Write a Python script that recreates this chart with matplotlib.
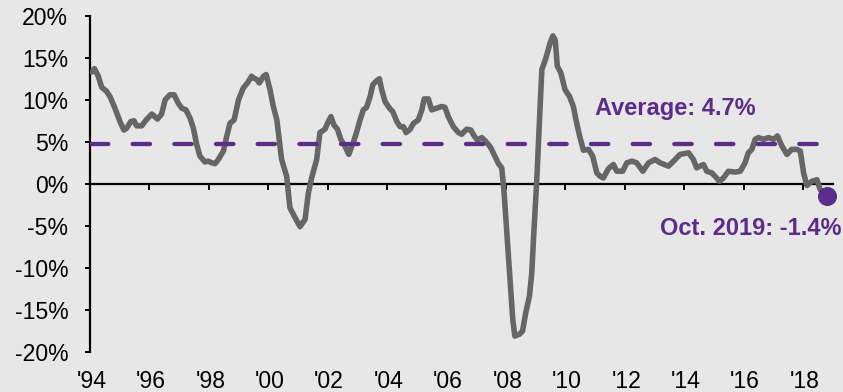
import matplotlib
matplotlib.use("Agg")
import matplotlib.pyplot as plt
from matplotlib.transforms import blended_transform_factory

plt.rcParams['font.family'] = ['Liberation Sans', 'DejaVu Sans']
plt.rcParams['lines.scale_dashes'] = False

# Year-over-year change, positions in fractional years along the axis
years = [
    1994.06, 1994.15, 1994.28, 1994.39, 1994.56, 1994.67, 1994.84, 1995.01, 1995.14, 1995.23,
    1995.37, 1995.48, 1995.57, 1995.74, 1995.89, 1996.08, 1996.15, 1996.27, 1996.41, 1996.53,
    1996.69, 1996.83, 1996.97, 1997.09, 1997.23, 1997.37, 1997.48, 1997.59, 1997.70, 1997.87,
    1997.98, 1998.10, 1998.21, 1998.32, 1998.49, 1998.60, 1998.71, 1998.85, 1999.00, 1999.16,
    1999.30, 1999.44, 1999.50, 1999.62, 1999.70, 1999.84, 1999.93, 2000.06, 2000.17, 2000.29,
    2000.37, 2000.45, 2000.62, 2000.73, 2000.90, 2001.07, 2001.24, 2001.35, 2001.46, 2001.63,
    2001.74, 2001.91, 2002.02, 2002.11, 2002.21, 2002.33, 2002.44, 2002.58, 2002.71, 2002.86,
    2002.97, 2003.09, 2003.20, 2003.31, 2003.43, 2003.52, 2003.63, 2003.74, 2003.82, 2003.93,
    2004.08, 2004.19, 2004.33, 2004.44, 2004.55, 2004.64, 2004.78, 2004.89, 2005.05, 2005.17,
    2005.25, 2005.39, 2005.50, 2005.67, 2005.84, 2005.95, 2006.06, 2006.23, 2006.40, 2006.51,
    2006.68, 2006.82, 2006.93, 2007.04, 2007.19, 2007.36, 2007.49, 2007.64, 2007.75, 2007.86,
    2007.94, 2008.03, 2008.14, 2008.23, 2008.30, 2008.45, 2008.56, 2008.67, 2008.79, 2008.87,
    2008.94, 2009.04, 2009.13, 2009.21, 2009.35, 2009.49, 2009.58, 2009.66, 2009.73, 2009.85,
    2009.99, 2010.14, 2010.27, 2010.36, 2010.48, 2010.61, 2010.78, 2010.92, 2011.06, 2011.17,
    2011.28, 2011.45, 2011.62, 2011.73, 2011.93, 2012.07, 2012.24, 2012.40, 2012.61, 2012.80,
    2013.02, 2013.19, 2013.47, 2013.70, 2013.86, 2014.15, 2014.31, 2014.42, 2014.65, 2014.76,
    2014.93, 2015.04, 2015.19, 2015.32, 2015.49, 2015.72, 2015.89, 2016.05, 2016.16, 2016.28,
    2016.39, 2016.50, 2016.67, 2016.84, 2017.01, 2017.14, 2017.29, 2017.46, 2017.62, 2017.79,
    2017.91, 2018.02, 2018.13, 2018.30, 2018.47, 2018.58, 2018.80,
]
values = [
    13.3, 13.7, 12.8, 11.5, 11.0, 10.4, 9.0, 7.4, 6.4, 6.6,
    7.4, 7.5, 6.9, 6.9, 7.6, 8.3, 8.1, 7.7, 8.3, 10.0,
    10.6, 10.6, 9.6, 9.0, 8.8, 7.8, 6.6, 4.7, 3.3, 2.6,
    2.7, 2.5, 2.4, 2.9, 3.9, 5.6, 7.2, 7.6, 10.0, 11.4,
    12.0, 12.8, 12.6, 12.4, 12.0, 12.8, 13.0, 11.2, 9.2, 7.6,
    5.3, 2.9, 0.9, -2.85, -4.0, -5.1, -4.2, -1.1, 0.7, 2.9,
    6.1, 6.5, 7.4, 8.0, 7.0, 6.5, 5.3, 4.5, 3.5, 4.9,
    6.1, 7.6, 8.8, 9.1, 10.4, 11.8, 12.2, 12.5, 11.2, 9.8,
    9.0, 8.6, 7.4, 6.8, 6.8, 6.1, 6.5, 7.2, 7.6, 8.8,
    10.1, 10.1, 8.8, 9.0, 9.2, 9.1, 8.0, 6.8, 6.1, 5.9,
    6.5, 6.4, 5.7, 5.2, 5.5, 4.9, 4.3, 3.2, 2.4, 1.9,
    -1.1, -5.8, -11.4, -16.1, -18.1, -17.9, -17.5, -15.3, -13.4, -10.6,
    -5.8, 0.5, 7.6, 13.6, 15.0, 16.8, 17.6, 17.1, 14.0, 13.2,
    11.2, 10.4, 9.2, 7.6, 5.7, 4.0, 4.1, 3.3, 1.3, 0.9,
    0.7, 1.8, 2.3, 1.5, 1.5, 2.5, 2.7, 2.5, 1.5, 2.5,
    2.9, 2.5, 2.1, 2.9, 3.5, 3.7, 2.9, 1.9, 2.3, 1.5,
    1.3, 0.9, 0.3, 0.7, 1.5, 1.4, 1.5, 2.5, 3.7, 4.1,
    5.3, 5.5, 5.3, 5.5, 5.3, 5.7, 4.5, 3.5, 4.1, 4.1,
    3.9, 1.3, -0.2, 0.3, 0.5, -0.7, -1.4,
]

average = 4.7
average_label = "Average: 4.7%"
latest_label = "Oct. 2019: -1.4%"

x_ticks = [1994, 1996, 1998, 2000, 2002, 2004, 2006, 2008, 2010, 2012, 2014, 2016, 2018]
x_tick_labels = ["'94", "'96", "'98", "'00", "'02", "'04", "'06", "'08", "'10", "'12", "'14", "'16", "'18"]
y_ticks = [-20, -15, -10, -5, 0, 5, 10, 15, 20]
y_tick_labels = ["-20%", "-15%", "-10%", "-5%", "0%", "5%", "10%", "15%", "20%"]

bg = '#E7E7E7'
purple = '#5B2C8A'
grey = '#666666'

fig = plt.figure(figsize=(8.43, 3.92), dpi=100, facecolor=bg)
ax = fig.add_axes([90 / 843, 1 - 352 / 392, (832.7 - 90) / 843, (352 - 15.7) / 392])
ax.set_facecolor(bg)

ax.plot(years, values, color=grey, linewidth=4.0, solid_joinstyle='round',
        solid_capstyle='round', zorder=3)

ax.plot([years[0] - 0.02, years[-1]], [average, average], color=purple, linewidth=3.1,
        dashes=(12.5, 17.5), dash_capstyle='round', zorder=4)

ax.plot([years[-1]], [values[-1]], 'o', color=purple, markersize=12.7, zorder=5,
        clip_on=False)

ax.set_xlim(1994, 2019)
ax.set_ylim(-20, 20)

for side in ('top', 'right'):
    ax.spines[side].set_visible(False)
ax.spines['bottom'].set_position(('data', 0))
for side in ('bottom', 'left'):
    ax.spines[side].set_linewidth(1.6)
    ax.spines[side].set_color('black')

ax.set_xticks(x_ticks)
ax.set_xticklabels([])
ax.tick_params(axis='x', direction='out', length=4.3, width=1.4, labelbottom=False)

ax.set_yticks(y_ticks)
ax.set_yticklabels(y_tick_labels)
ax.tick_params(axis='y', direction='out', length=3.6, width=1.4, pad=12, labelsize=16.6,
               labelcolor='black')

# Year labels sit below the plot area, not on the zero line
trans = blended_transform_factory(ax.transData, ax.transAxes)
for xt, lab in zip(x_ticks, x_tick_labels):
    ax.text(xt + 0.05, -0.108, lab, transform=trans, ha='center', va='baseline',
            fontsize=16.6, color='black', clip_on=False)

ax.text(2011.0, 8.2, average_label, ha='left', va='baseline', fontsize=17,
        fontweight='bold', color=purple)
ax.text(2019.29, -6.1, latest_label, ha='right', va='baseline', fontsize=17,
        fontweight='bold', color=purple, clip_on=False)

fig.savefig('out.png', dpi=100, facecolor=bg)
